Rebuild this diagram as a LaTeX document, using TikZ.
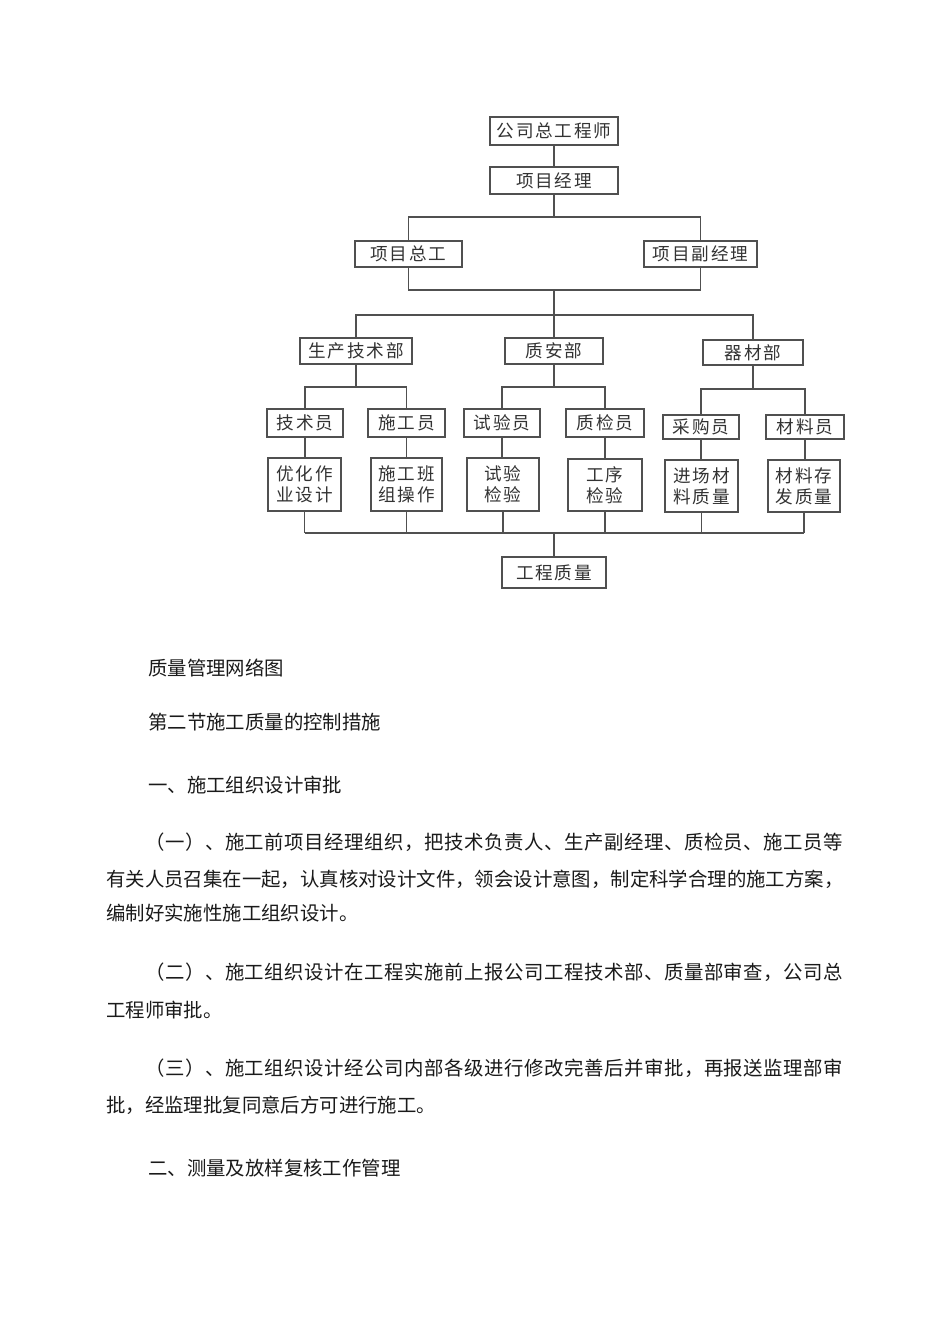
\documentclass[tikz,border=0pt]{standalone}
\usepackage{fontspec}
\newfontfamily\cjk{Noto Sans CJK SC}
\definecolor{lnc}{HTML}{505050}
\definecolor{btx}{HTML}{333333}
\definecolor{bodytx}{HTML}{1A1A1A}
\def\lspglue{1.8pt}
\makeatletter
\def\lsp#1{\lsp@a#1\relax}
\def\lsp@a#1{#1\futurelet\lsp@next\lsp@b}
\def\lsp@b{\ifx\lsp@next\relax\expandafter\lsp@stop\else\expandafter\lsp@c\fi}
\def\lsp@c{\hskip\lspglue\relax\lsp@a}
\def\lsp@stop\relax{}
\makeatother
\newcommand\jl[2]{\makebox[#1][s]{\def\lspglue{0pt plus 1fil}\lsp{#2}}}
\tikzset{
  bx/.style={draw=lnc, line width=1.1pt, inner sep=0pt, align=center, text=btx,
    font=\cjk\fontsize{17.6}{21}\selectfont},
  ln/.style={draw=lnc, line width=1.1pt},
  bus/.style={draw=lnc, line width=2.4pt},
  body/.style={anchor=west, inner sep=0pt, text=bodytx, font=\cjk\fontsize{19.4}{24}\selectfont}
}
\begin{document}
\begin{tikzpicture}[x=1pt,y=-1pt]
\useasboundingbox[fill=white] (0,0) rectangle (950,1344);
% boxes
\node[bx, minimum width=128, minimum height=28] (n1) at (554,131) {\lsp{公司总工程师}};
\node[bx, minimum width=128, minimum height=27] (n2) at (554,180.5) {\lsp{项目经理}};
\node[bx, minimum width=107, minimum height=26] (n3) at (408.5,254) {\lsp{项目总工}};
\node[bx, minimum width=113, minimum height=26] (n4) at (700.5,254) {\lsp{项目副经理}};
\node[bx, minimum width=112, minimum height=26] (n5) at (356,351) {\lsp{生产技术部}};
\node[bx, minimum width=98, minimum height=26] (n6) at (554,351) {\lsp{质安部}};
\node[bx, minimum width=100, minimum height=25] (n7) at (753,352.5) {\lsp{器材部}};
\node[bx, minimum width=76, minimum height=28] (t1) at (305,423) {\lsp{技术员}};
\node[bx, minimum width=77, minimum height=28] (t2) at (406.5,423) {\lsp{施工员}};
\node[bx, minimum width=76, minimum height=28] (t3) at (502,423) {\lsp{试验员}};
\node[bx, minimum width=78, minimum height=28] (t4) at (605,423) {\lsp{质检员}};
\node[bx, minimum width=76, minimum height=24] (t5) at (701,427) {\lsp{采购员}};
\node[bx, minimum width=78, minimum height=24] (t6) at (805,427) {\lsp{材料员}};
\node[bx, minimum width=73, minimum height=53] (b1) at (304.5,484.5) {\lsp{优化作}\\\lsp{业设计}};
\node[bx, minimum width=71, minimum height=53] (b2) at (406.5,484.5) {\lsp{施工班}\\\lsp{组操作}};
\node[bx, minimum width=72, minimum height=53] (b3) at (503,484.5) {\lsp{试验}\\\lsp{检验}};
\node[bx, minimum width=74, minimum height=52] (b4) at (605,485) {\lsp{工序}\\\lsp{检验}};
\node[bx, minimum width=73, minimum height=52] (b5) at (701.5,486) {\lsp{进场材}\\\lsp{料质量}};
\node[bx, minimum width=72, minimum height=52] (b6) at (804,486) {\lsp{材料存}\\\lsp{发质量}};
\node[bx, minimum width=104, minimum height=31] (q) at (554,572.5) {\lsp{工程质量}};
% junctions
\coordinate (j1) at (554,217);
\coordinate (j2) at (554,290);
\coordinate (j3) at (554,315);
\coordinate (j4) at (356,387);
\coordinate (j5) at (554,387);
\coordinate (j6) at (753,389);
\coordinate (j7) at (554,533);
% connectors
\draw[ln] (n1.south) -- (n2.north);
\draw[ln] (n2.south) -- (j1);
\draw[ln] (n3.north) |- (j1) -| (n4.north);
\draw[ln] (n3.south) |- (j2) -| (n4.south);
\draw[ln] (j2) -- (j3);
\draw[ln] (n5.north) |- (j3) -| (n7.north);
\draw[ln] (j3) -- (n6.north);
\draw[ln] (n5.south) -- (j4);
\draw[ln] (t1.north) |- (j4) -| (t2.north);
\draw[ln] (n6.south) -- (j5);
\draw[ln] (t3.north) |- (j5) -| (t4.north);
\draw[ln] (n7.south) -- (j6);
\draw[ln] (t5.north) |- (j6) -| (t6.north);
\foreach \a/\b in {t1/b1,t2/b2,t3/b3,t4/b4,t5/b5,t6/b6}{
  \draw[ln] (\a.south) -- (\a.south |- \b.north);
  \draw[ln] (\b.south) -- (\b.south |- j7);
}
\draw[bus] (b1.south |- j7) -- (b6.south |- j7);
\draw[ln] (j7) -- (q.north);
% body text
\node[body] (h1) at (148,668) {质量管理网络图};
\node[body] (h2) at (148,722) {第二节施工质量的控制措施};
\node[body] (h3) at (148,785) {一、施工组织设计审批};
\node[body] (p1a) at (145,842) {\jl{698pt}{（一）、施工前项目经理组织，把技术负责人、生产副经理、质检员、施工员等}};
\node[body] (p1b) at (106,879) {\jl{737pt}{有关人员召集在一起，认真核对设计文件，领会设计意图，制定科学合理的施工方案，}};
\node[body] (p1c) at (106,913) {编制好实施性施工组织设计。};
\node[body] (p2a) at (145,972) {\jl{698pt}{（二）、施工组织设计在工程实施前上报公司工程技术部、质量部审查，公司总}};
\node[body] (p2b) at (106,1010) {工程师审批。};
\node[body] (p3a) at (145,1068) {\jl{698pt}{（三）、施工组织设计经公司内部各级进行修改完善后并审批，再报送监理部审}};
\node[body] (p3b) at (106,1105) {批，经监理批复同意后方可进行施工。};
\node[body] (h4) at (148,1168) {二、测量及放样复核工作管理};
\end{tikzpicture}
\end{document}
